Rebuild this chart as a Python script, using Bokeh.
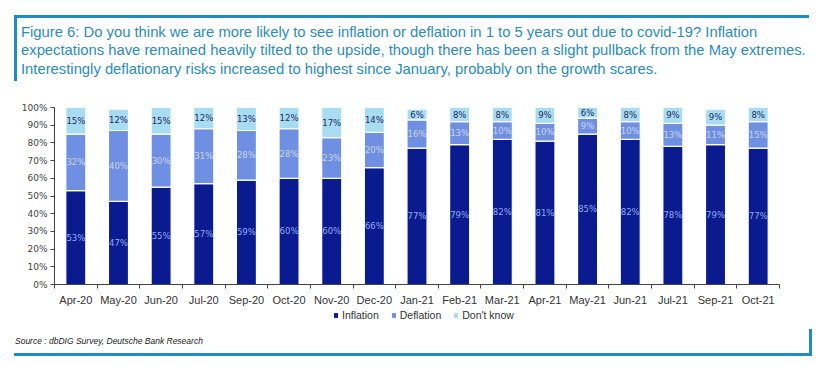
import numpy as np
from bokeh.plotting import figure
from bokeh.models import (ColumnDataSource, FixedTicker, Legend, LegendItem, Div,
                          NumeralTickFormatter)
from bokeh.layouts import column
from bokeh.core.properties import value
from bokeh.embed import file_html
from bokeh.resources import INLINE

months = ["Apr-20", "May-20", "Jun-20", "Jul-20", "Sep-20", "Oct-20", "Nov-20", "Dec-20",
          "Jan-21", "Feb-21", "Mar-21", "Apr-21", "May-21", "Jun-21", "Jul-21", "Sep-21", "Oct-21"]
inflation = [53, 47, 55, 57, 59, 60, 60, 66, 77, 79, 82, 81, 85, 82, 78, 79, 77]
deflation = [32, 40, 30, 31, 28, 28, 23, 20, 16, 13, 10, 10, 9, 10, 13, 11, 15]
dont_know = [15, 12, 15, 12, 13, 12, 17, 14, 6, 8, 8, 9, 6, 8, 9, 9, 8]
y_ticks = [0, 10, 20, 30, 40, 50, 60, 70, 80, 90, 100]
series_names = ["Inflation", "Deflation", "Don't know"]

title_lines = [
    "Figure 6: Do you think we are more likely to see inflation or deflation in 1 to 5 years out due to covid-19? Inflation",
    "expectations have remained heavily tilted to the upside, though there has been a slight pullback from the May extremes.",
    "Interestingly deflationary risks increased to highest since January, probably on the growth scares.",
]
source_text = "Source : dbDIG Survey, Deutsche Bank Research"

C_INF = "#0a1a8f"
C_DEF = "#6f8fe3"
C_DK = "#a8dcf3"
COLORS = [C_INF, C_DEF, C_DK]
FRAME = "#1f8dc1"

x = np.arange(len(months)) + 0.5
inf = np.array(inflation)
dfl = np.array(deflation)
dk = np.array(dont_know)

src = ColumnDataSource(dict(x=x, inflation=inf, deflation=dfl, dont_know=dk))

p = figure(width=804, height=216, x_range=(0, len(months)), y_range=(0, 100),
           output_backend="svg", toolbar_location=None,
           min_border_left=54, min_border_right=25, min_border_top=15, min_border_bottom=20)
p.outline_line_color = None
p.grid.grid_line_color = None
p.background_fill_color = "white"

rs = p.vbar_stack(["inflation", "deflation", "dont_know"], x="x", width=0.47, source=src,
                  color=COLORS, line_color="white", line_width=1.2)

font = value("DejaVu Sans")
lab_inf = ColumnDataSource(dict(x=x, y=inf / 2, t=[f"{v}%" for v in inflation]))
lab_def = ColumnDataSource(dict(x=x, y=inf + dfl / 2, t=[f"{v}%" for v in deflation]))
lab_dk = ColumnDataSource(dict(x=x, y=inf + dfl + dk / 2, t=[f"{v}%" for v in dont_know]))
for s, c in [(lab_inf, "#93aaf2"), (lab_def, "#cad6f6"), (lab_dk, "#1c2b5c")]:
    p.text(x="x", y="y", text="t", source=s, text_align="center", text_baseline="middle",
           text_font_size="8.5px", text_color=c, text_font=font)

# y axis
ya = p.yaxis[0]
ya.ticker = FixedTicker(ticks=y_ticks)
ya.formatter = NumeralTickFormatter(format="0")
ya.major_label_overrides = {t: f"{t}%" for t in y_ticks}
ya.major_tick_out = 4
ya.major_tick_in = 0
ya.minor_tick_line_color = None
ya.axis_line_color = "#444444"
ya.major_tick_line_color = "#444444"
ya.major_label_text_font = "DejaVu Sans"
ya.major_label_text_font_size = "9px"
ya.major_label_text_color = "#444444"
ya.major_label_standoff = 3

# x axis: labels at centres, tick marks at boundaries
xa = p.xaxis[0]
xa.ticker = FixedTicker(ticks=list(x), minor_ticks=list(range(len(months) + 1)))
xa.major_label_overrides = {float(xx): m for xx, m in zip(x, months)}
xa.major_tick_line_color = None
xa.major_tick_out = 0
xa.major_tick_in = 0
xa.minor_tick_out = 4
xa.minor_tick_in = 0
xa.minor_tick_line_color = "#444444"
xa.axis_line_color = "#444444"
xa.major_label_text_font = "Liberation Sans"
xa.major_label_text_font_size = "11px"
xa.major_label_text_color = "#333333"
xa.major_label_standoff = 5

# legend in its own strip below the chart
pl = figure(width=804, height=16, x_range=(0, 1), y_range=(0, 1),
            x_axis_location=None, y_axis_location=None,
            output_backend="svg", toolbar_location=None, min_border=0)
pl.grid.grid_line_color = None
pl.outline_line_color = None
dummies = [pl.vbar(x=[-100], top=[0], bottom=[0], width=0.1, color=c, line_color=None)
           for c in COLORS]
legend = Legend(items=[LegendItem(label=n, renderers=[r]) for n, r in zip(series_names, dummies)],
                orientation="horizontal", location=(279, 3),
                glyph_width=5, glyph_height=6, label_height=10, label_width=10,
                padding=0, margin=0, spacing=12, label_standoff=4,
                border_line_color=None, background_fill_alpha=0,
                label_text_font="Liberation Sans", label_text_font_size="10.5px",
                label_text_color="#333333")
pl.add_layout(legend)

title_html = (
    f'<div style="margin-top:10px;margin-left:9px;width:795px;height:66px;'
    f'border-top:3px solid {FRAME};border-left:3px solid {FRAME};'
    f'font-family:\'Liberation Sans\',sans-serif;font-size:14.8px;'
    f'line-height:18.3px;color:#2a8cbc;white-space:nowrap;padding:5px 0 0 4px;box-sizing:border-box;">'
    + "<br>".join(title_lines) + "</div>"
)
title_div = Div(text=title_html, width=804, height=82)

src_html = (
    f'<div style="margin-left:9px;width:798px;height:27px;'
    f'border-bottom:3px solid {FRAME};border-right:3px solid {FRAME};'
    f'font-family:\'Liberation Sans\',sans-serif;font-style:italic;font-size:8.5px;'
    f'color:#222222;white-space:nowrap;padding:6px 0 0 1px;box-sizing:border-box;">'
    + source_text + "</div>"
)
source_div = Div(text=src_html, width=804, height=30)

layout = column(title_div, p, pl, source_div, spacing=0)
open("out.html", "w").write(file_html(layout, INLINE))
